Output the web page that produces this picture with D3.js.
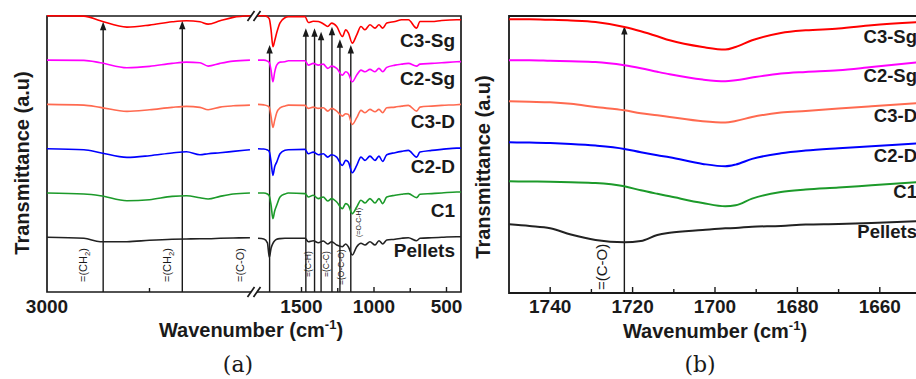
<!DOCTYPE html>
<html>
<head>
<meta charset="utf-8">
<script src="https://cdn.jsdelivr.net/npm/d3@7"></script>
<style>
  html, body { margin: 0; padding: 0; background: #fff; }
  svg { display: block; font-family: "Liberation Sans", Arial, sans-serif; }
</style>
</head>
<body>
<svg id="chart" width="916" height="379"></svg>
<script>
// samples, bottom to top
const samples = ["Pellets", "C1", "C2-D", "C3-D", "C2-Sg", "C3-Sg"];
const colors = ["#222222", "#1c9a2a", "#0000ff", "#ff6a50", "#ff00ff", "#ff0000"];

// (a) high wavenumber part, relative transmittance (a.u.)
const highWn = [3000, 2910, 2870, 2805, 2750, 2695, 2660, 2627, 2607, 2578, 2546, 2505];
const highT = [
  [0, -1, -4.4, -4.4, -3, -2, -1.7, -1.4, -1.4, -1, -0.7, -0.4],
  [0, -1, -2.7, -7.7, -6.7, -3.4, -2.7, -4.7, -6, -3.4, -1, 0],
  [0, -1, -4, -8.7, -7, -4.3, -3, -6, -5, -4, -2.7, -1],
  [0, -0.7, -3, -7, -5.4, -3, -2, -3, -5.4, -2.7, -1.4, -0.7],
  [0, -0.3, -2.6, -7.6, -6.3, -3.3, -2, -2.6, -6, -3.3, -1, 0],
  [0, -0.3, -5, -11.3, -9.3, -6, -5, -6, -8.3, -5, -1.6, 0]
];

// (a) fingerprint part
const lowWn = [1800, 1760, 1735, 1722, 1710, 1697, 1685, 1671, 1648, 1614, 1591,
  1476, 1453, 1419, 1384, 1350, 1319, 1292, 1257, 1218, 1195, 1177, 1150, 1119, 1090,
  1062, 1028, 993, 966, 940, 912, 855, 809, 763, 706, 683, 602, 533, 430, 400];
const lowT = [
  [-1, -1.7, -5.5, -20, -11, -6, -3.5, -2, -1.3, -1, -1,
   -1, -4.4, -3.4, -5.4, -3.7, -6.7, -4.4, -7.7, -9.4, -6.7, -9.4, -17.7, -9.4, -6,
   -7.7, -4.4, -7.7, -3.4, -6.7, -2.7, -2, -1, -0.4, -3.4, -1, -0.4, 0, 0.6, 0.6],
  [0, 0, -1, -3, -12, -25.7, -18, -12.3, -4, -1, 0,
   -0.6, -4, -2.3, -5.6, -4, -8, -5.6, -9, -15.6, -10.6, -12.3, -20.6, -14, -7.3,
   -10, -5.6, -10, -5.6, -10.6, -4, -2.3, -1.3, -0.6, -4.6, -1.3, -0.6, 0, 1, 1],
  [0, -0.3, -1.3, -3, -13, -26.7, -18, -13.4, -5, -1.5, -1,
   -0.7, -5, -3.4, -6, -5, -8.4, -6, -8.4, -16.7, -11.7, -13.4, -24, -16.7, -8.4,
   -11.7, -7.4, -11.7, -7.4, -12.7, -6, -4, -2.7, -1.7, -8.4, -3.4, -1.7, -0.7, 0.6, 0.6],
  [0, -0.5, -1.5, -3, -12, -23, -16, -8.3, -3.5, -1.5, -0.7,
   -1, -4, -2.7, -4, -3.3, -6.7, -4, -6.7, -11.7, -9.3, -10, -20, -13.3, -6,
   -8.3, -5, -7.3, -5, -8.3, -3.3, -2.7, -1.7, -1, -6.7, -2.7, -1.7, -1, -0.3, 0],
  [0, 0, -1, -2.5, -10, -21.7, -12, -5, -2, -1.7, -0.7,
   -0.7, -5, -3.3, -5, -4, -8.3, -6, -8.3, -15, -11.7, -13.3, -21.7, -15, -10,
   -11.7, -9.3, -11.7, -8.3, -11.7, -7.3, -5, -4, -3.3, -6, -4, -3.3, -2.7, -1.7, -1.5],
  [0, 0, -1, -3, -14, -31, -25, -17, -7, -2, -1,
   -0.7, -6.7, -5.5, -5.7, -8, -10.7, -7.3, -10.7, -20.7, -14, -17, -27.3, -19, -10.7,
   -14, -9, -12.3, -9, -12.3, -7.3, -5.7, -4, -4, -12.3, -5.7, -5.7, -4.7, -4, -4]
];

// (b) carbonyl region
const zoomWn = [1750, 1745, 1740, 1735, 1729, 1722, 1718, 1714, 1711, 1703, 1697.5, 1695, 1691, 1684, 1678, 1670, 1662, 1650];
const zoomT = [
  [0, -1.7, -4, -10.2, -15.7, -18, -16.7, -10.7, -8.4, -5.7, -4, -3.7, -2.4, -1.7, -0.2, 0.3, 1.3, 3.3],
  [2, 1.8, 1.5, 1, 0.3, -3, -7, -10.5, -13, -19.7, -23, -22, -15.3, -8.7, -6.3, -4.3, -2, 1.3],
  [0, -0.3, -0.8, -1.7, -3.3, -6.6, -10, -13, -15, -21.6, -24, -22.3, -16.6, -11, -8.3, -6, -4, -1],
  [0, -0.5, -1, -2.5, -5.7, -9, -12, -14, -15.7, -20, -21.3, -19.7, -15.7, -11.3, -9.7, -7.3, -5, -1.7],
  [0, 0, -0.5, -1, -1.7, -5, -8, -11.5, -14, -19.3, -21, -20, -17.3, -13.3, -11.7, -10, -6.7, -1.7],
  [0, 0, -0.5, -1.2, -2.7, -7.7, -12, -17, -21, -27.7, -30.3, -27.7, -21, -13.7, -11, -9.3, -6, -2.7]
];

// band markers
const highBands = [2863, 2670];
const highBandTips = [215.6, 216.6];
const lowBands = [1720, 1470, 1410, 1365, 1290, 1235, 1160];
const lowBandTips = [192.3, 209, 209, 205.6, 210.6, 198, 192.3];
const zoomBands = [1722];
const zoomBandTips = [198.3];

const highTicks = [3000];
const highMinor = [2750];
const lowTicks = [1500, 1000, 500];
const lowMinor = [1250, 750];
const zoomTicks = [1740, 1720, 1700, 1680, 1660];
const zoomMinor = [1730, 1710, 1690, 1670];

const svg = d3.select("#chart");
const ink = "#1a1a1a";

// ---------- panel (a) ----------
const A = { left: 47, right: 461, top: 16, bottom: 292, cut0: 251, cut1: 257 };
const xHigh = d3.scaleLinear().domain([3000, 2500]).range([A.left, 252]);
const xLow = d3.scaleLinear().domain([1800, 400]).range([258, A.right]);
const yA = d3.scaleLinear().domain([-54.7, 221.3]).range([A.bottom, A.top]);
const stepA = 44.3;

// ---------- panel (b) ----------
const B = { left: 509, right: 921, top: 16, bottom: 293 };
const xZ = d3.scaleLinear().domain([1750, 1650]).range([B.left, B.right]);
const yB = d3.scaleLinear().domain([-68.7, 208.3]).range([B.bottom, B.top]);
const stepB = 41;

function arrow(g, x, yTip, yBase) {
  g.append("line").attr("x1", x).attr("x2", x).attr("y1", yBase).attr("y2", yTip + 6)
    .attr("stroke", ink).attr("stroke-width", 1.4);
  g.append("path").attr("d", `M${x},${yTip}L${x - 3.2},${yTip + 8.5}L${x + 3.2},${yTip + 8.5}Z`)
    .attr("fill", ink);
}

function vlabel(g, x, yBottom, parts, size) {
  const t = g.append("text")
    .attr("transform", `translate(${x},${yBottom}) rotate(-90)`)
    .attr("dy", "0.35em").attr("font-size", size).attr("fill", ink);
  parts.forEach(p => {
    const s = t.append("tspan").text(p.t);
    if (p.sub) s.attr("font-size", size * 0.7).attr("dy", size * 0.25);
    if (p.after) s.attr("dy", -size * 0.25);
  });
}

function inwardTicks(g, scale, values, len, yBase) {
  g.selectAll(null).data(values).join("line")
    .attr("x1", d => scale(d)).attr("x2", d => scale(d))
    .attr("y1", yBase).attr("y2", yBase - len)
    .attr("stroke", ink).attr("stroke-width", 1.4);
}

function tickLabels(g, scale, values, y) {
  g.selectAll(null).data(values).join("text")
    .attr("x", d => scale(d)).attr("y", y)
    .attr("text-anchor", "middle").attr("font-size", 19).attr("font-weight", "bold")
    .attr("fill", ink).text(d => d);
}

function axisTitle(g, cx, y) {
  const t = g.append("text").attr("x", cx).attr("y", y).attr("text-anchor", "middle")
    .attr("font-size", 20).attr("font-weight", "bold").attr("fill", ink);
  t.append("tspan").text("Wavenumber (cm");
  t.append("tspan").text("-1").attr("font-size", 13).attr("dy", -8);
  t.append("tspan").text(")").attr("dy", 8);
}

function yTitle(g, cx, cy) {
  g.append("text").attr("transform", `translate(${cx},${cy}) rotate(-90)`)
    .attr("text-anchor", "middle").attr("dy", "0.35em")
    .attr("font-size", 20).attr("font-weight", "bold").attr("fill", ink)
    .text("Transmittance (a.u)");
}

const line = (xs, ys, wn) => d3.line()
  .x((d, i) => xs(wn[i])).y(d => ys(d))
  .curve(d3.curveMonotoneX);

// panel (a) frame
const ga = svg.append("g");
const frame = ga.append("g").attr("stroke", ink).attr("stroke-width", 1.7).attr("fill", "none");
frame.append("path").attr("d",
  `M${A.cut0},${A.top}H${A.left}V${A.bottom}H${A.cut0}` +
  `M${A.cut1},${A.top}H${A.right}V${A.bottom}H${A.cut1}`);
[A.cut0, A.cut1].forEach(x => {
  [A.top, A.bottom].forEach(y => {
    frame.append("line").attr("x1", x - 3.5).attr("y1", y + 5).attr("x2", x + 3.5).attr("y2", y - 5);
  });
});

inwardTicks(ga, xHigh, highMinor, 4, A.bottom);
inwardTicks(ga, xLow, lowTicks, 5, A.bottom);
inwardTicks(ga, xLow, lowMinor, 4, A.bottom);
tickLabels(ga, xHigh, highTicks, A.bottom + 21);
tickLabels(ga, xLow, lowTicks, A.bottom + 21);
axisTitle(ga, 251, 337);
yTitle(ga, 22, 163);

// band arrows
highBands.forEach((w, i) => arrow(ga, xHigh(w), yA(highBandTips[i]), A.bottom));
lowBands.forEach((w, i) => arrow(ga, xLow(w), yA(lowBandTips[i]), A.bottom));

// band labels
vlabel(ga, xHigh(2912), 282, [{ t: "=(CH" }, { t: "2", sub: true }, { t: ")", after: true }], 11);
vlabel(ga, xHigh(2706), 282, [{ t: "=(CH" }, { t: "2", sub: true }, { t: ")", after: true }], 11);
vlabel(ga, xHigh(2529), 282, [{ t: "=(C-O)" }], 11);
vlabel(ga, xLow(1455), 277, [{ t: "=(C-H)" }], 8.5);
vlabel(ga, xLow(1331), 277, [{ t: "=(C-C)" }], 8.5);
vlabel(ga, xLow(1228), 285, [{ t: "=(O-C-O)" }], 8.5);
vlabel(ga, xLow(1110), 237, [{ t: "(=O-C-H)" }], 7);

// spectra
samples.forEach((s, k) => {
  const off = k * stepA;
  ga.append("path").datum(highT[k].map(v => v + off))
    .attr("d", line(xHigh, yA, highWn)).attr("fill", "none")
    .attr("stroke", colors[k]).attr("stroke-width", 1.6);
  ga.append("path").datum(lowT[k].map(v => v + off))
    .attr("d", line(xLow, yA, lowWn)).attr("fill", "none")
    .attr("stroke", colors[k]).attr("stroke-width", 1.6);
});

const shiftA = [20, 24, 24, 24, 25, 31];
ga.selectAll(null).data(samples).join("text")
  .attr("x", 455).attr("y", (d, k) => yA(k * stepA) + shiftA[k])
  .attr("text-anchor", "end").attr("font-size", 19).attr("font-weight", "bold")
  .attr("fill", ink).text(d => d);

ga.append("text").attr("x", 238).attr("y", 372).attr("text-anchor", "middle")
  .attr("font-family", "'DejaVu Serif', serif").attr("font-size", 22).attr("fill", ink).text("(a)");

// ---------- panel (b) ----------
const gb = svg.append("g");
gb.append("path").attr("d", `M${B.right + 5},${B.top}H${B.left}V${B.bottom}H${B.right + 5}`)
  .attr("stroke", ink).attr("stroke-width", 1.8).attr("fill", "none");
inwardTicks(gb, xZ, zoomTicks, 6, B.bottom);
inwardTicks(gb, xZ, zoomMinor, 4, B.bottom);
tickLabels(gb, xZ, zoomTicks, B.bottom + 20);
axisTitle(gb, 715, 338);
yTitle(gb, 483, 167);

zoomBands.forEach((w, i) => arrow(gb, xZ(w), yB(zoomBandTips[i]), B.bottom));
vlabel(gb, xZ(1727.6), 290, [{ t: "=(C-O)" }], 15);

samples.forEach((s, k) => {
  const off = k * stepB;
  gb.append("path").datum(zoomT[k].map(v => v + off))
    .attr("d", line(xZ, yB, zoomWn)).attr("fill", "none")
    .attr("stroke", colors[k]).attr("stroke-width", 2);
});

const shiftB = [14, 15, 20, 21, 22, 24];
gb.selectAll(null).data(samples).join("text")
  .attr("x", 917).attr("y", (d, k) => yB(k * stepB) + shiftB[k])
  .attr("text-anchor", "end").attr("font-size", 18.5).attr("font-weight", "bold")
  .attr("fill", ink).text(d => d);

gb.append("text").attr("x", 700).attr("y", 372).attr("text-anchor", "middle")
  .attr("font-family", "'DejaVu Serif', serif").attr("font-size", 22).attr("fill", ink).text("(b)");
</script>
</body>
</html>
